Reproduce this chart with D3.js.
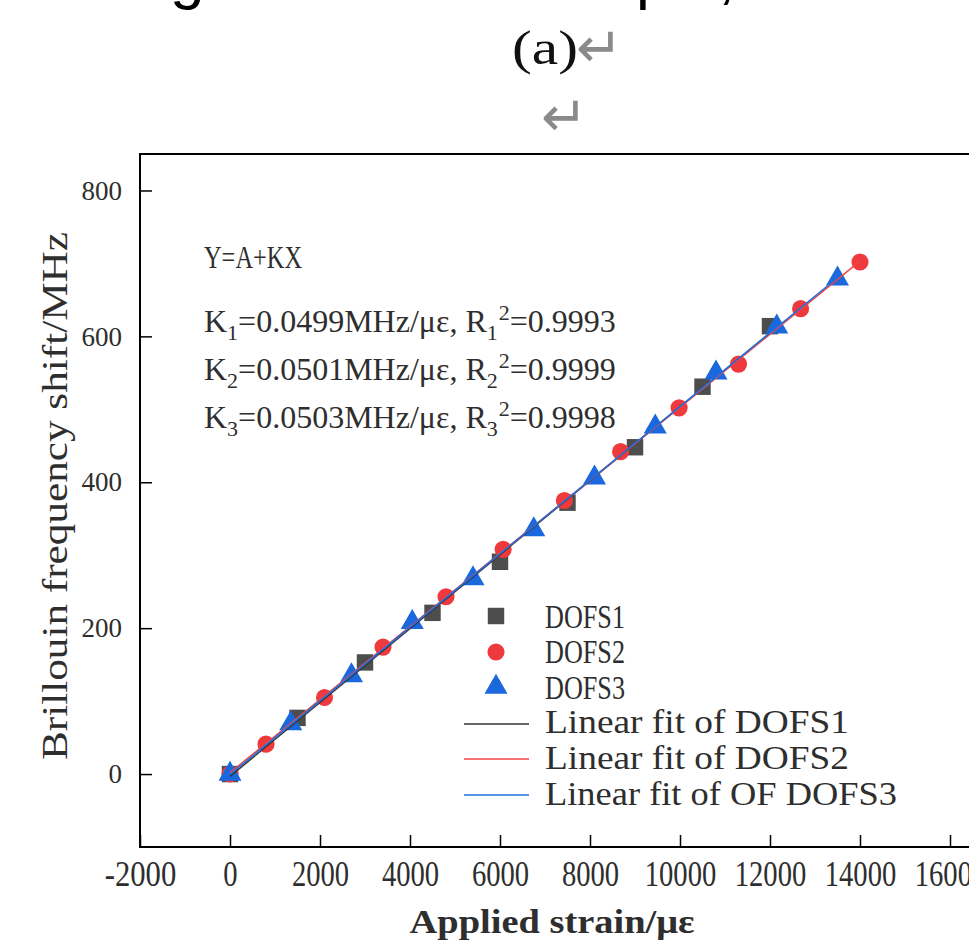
<!DOCTYPE html>
<html>
<head>
<meta charset="utf-8">
<script src="https://cdn.jsdelivr.net/npm/d3@7"></script>
<style>
  html, body { margin: 0; padding: 0; background: #fff; }
  svg { display: block; }
</style>
</head>
<body>
<svg id="chart" width="969" height="940"></svg>
<script>
// ---------------- data ----------------
const dofs1X = [0, 1500, 3000, 4500, 6000, 7500, 9000, 10500, 12000];
const dofs1Y = [0, 77, 153, 221, 291, 372, 448, 531, 614];

const dofs2X = [0, 800, 2100, 3400, 4800, 6070, 7430, 8680, 9980, 11300, 12680, 14000];
const dofs2Y = [0, 41, 105, 174, 243, 308, 375, 442, 502, 562, 638, 702];

const dofs3X = [0, 1350, 2700, 4050, 5400, 6750, 8100, 9450, 10800, 12150, 13500];
const dofs3Y = [0, 69, 135, 208, 268, 335, 406, 476, 550, 613, 679];

const xTicks = [-2000, 0, 2000, 4000, 6000, 8000, 10000, 12000, 14000, 16000];
const yTicks = [0, 200, 400, 600, 800];

const seriesNames = ["DOFS1", "DOFS2", "DOFS3"];
const fitNames = ["Linear fit of DOFS1", "Linear fit of DOFS2", "Linear fit of OF DOFS3"];
const colors = ["#4d4d4d", "#ef3a3d", "#1a68de"];
const fitColors = ["#333333", "#f04545", "#1f6fe0"];

const kLabels = ["0.0499", "0.0501", "0.0503"];
const r2Labels = ["0.9993", "0.9999", "0.9998"];

// ---------------- setup ----------------
const svg = d3.select("#chart");
const x = d3.scaleLinear().domain([-2000, 17000]).range([140, 995]);
const y = d3.scaleLinear().domain([-100, 850]).range([847, 154]);
const serif = "'Liberation Serif', 'Times New Roman', serif";
const textCol = "#2e2e2e";

// top fragments of previous text line
svg.append("text").attr("x", 170).attr("y", -3).attr("font-family", "'Liberation Sans', Arial, sans-serif")
  .attr("font-size", 62).attr("fill", "#000").text("g");
svg.append("text").attr("x", 636).attr("y", -3).attr("font-family", "'Liberation Sans', Arial, sans-serif")
  .attr("font-size", 62).attr("fill", "#000").text("p");
svg.append("text").attr("x", 718).attr("y", -3).attr("font-family", "'Liberation Sans', Arial, sans-serif")
  .attr("font-size", 62).attr("fill", "#000").text(",");

// caption (a) with return marks
svg.append("text").attr("x", 545).attr("y", 64).attr("text-anchor", "middle")
  .attr("font-family", serif).attr("font-size", 48).attr("fill", "#111")
  .attr("textLength", 66).attr("lengthAdjust", "spacingAndGlyphs").text("(a)");
svg.append("text").attr("x", 576).attr("y", 67).attr("font-family", "'DejaVu Sans', sans-serif")
  .attr("font-size", 56).attr("fill", "#8a8a8a").text("\u21B5");
svg.append("text").attr("x", 541).attr("y", 136).attr("font-family", "'DejaVu Sans', sans-serif")
  .attr("font-size", 56).attr("fill", "#8a8a8a").text("\u21B5");

// ---------------- axes ----------------
const xAxis = d3.axisBottom(x).tickValues(xTicks).tickSize(-12).tickPadding(14)
  .tickFormat(d => String(d));
const gx = svg.append("g").attr("transform", `translate(0,${y.range()[0]})`).call(xAxis);
gx.select(".domain").remove();
gx.selectAll(".tick line").attr("stroke", "#000").attr("stroke-width", 1.5);
gx.selectAll(".tick text")
  .attr("font-family", serif).attr("font-size", 35).attr("fill", textCol)
  .attr("dy", "0.72em")
  .each(function(d) {
    const s = String(d);
    d3.select(this).attr("textLength", s.length * 14.3).attr("lengthAdjust", "spacingAndGlyphs");
  });

const yAxis = d3.axisLeft(y).tickValues(yTicks).tickSize(-12).tickPadding(18)
  .tickFormat(d => String(d));
const gy = svg.append("g").attr("transform", `translate(${x.range()[0]},0)`).call(yAxis);
gy.select(".domain").remove();
gy.selectAll(".tick line").attr("stroke", "#000").attr("stroke-width", 1.5);
gy.selectAll(".tick text")
  .attr("font-family", serif).attr("font-size", 27).attr("fill", textCol);

// frame
svg.append("rect")
  .attr("x", x.range()[0]).attr("y", y.range()[1])
  .attr("width", x.range()[1] - x.range()[0]).attr("height", y.range()[0] - y.range()[1])
  .attr("fill", "none").attr("stroke", "#000").attr("stroke-width", 2);

// axis titles
svg.append("text")
  .attr("transform", "translate(67,496) rotate(-90)")
  .attr("text-anchor", "middle").attr("font-family", serif).attr("font-size", 35)
  .attr("fill", textCol).attr("textLength", 528).attr("lengthAdjust", "spacingAndGlyphs")
  .text("Brillouin frequency shift/MHz");
svg.append("text")
  .attr("x", 552).attr("y", 933).attr("text-anchor", "middle")
  .attr("font-family", serif).attr("font-size", 34).attr("font-weight", "bold")
  .attr("fill", textCol).attr("textLength", 285).attr("lengthAdjust", "spacingAndGlyphs")
  .text("Applied strain/\u03BC\u03B5");

// ---------------- data marks ----------------
const series = [
  dofs1X.map((v, i) => [v, dofs1Y[i]]),
  dofs2X.map((v, i) => [v, dofs2Y[i]]),
  dofs3X.map((v, i) => [v, dofs3Y[i]])
];
const shapes = [d3.symbolSquare, d3.symbolCircle, d3.symbolTriangle];
const sizes = [270, 230, 230];

series.forEach((pts, si) => {
  svg.append("g").selectAll("path").data(pts).join("path")
    .attr("d", d3.symbol().type(shapes[si]).size(sizes[si]))
    .attr("transform", d => `translate(${x(d[0])},${y(d[1])})`)
    .attr("fill", colors[si]);
});

// linear fits (least squares)
function fit(pts) {
  const mx = d3.mean(pts, d => d[0]), my = d3.mean(pts, d => d[1]);
  let sxy = 0, sxx = 0;
  pts.forEach(d => { sxy += (d[0] - mx) * (d[1] - my); sxx += (d[0] - mx) ** 2; });
  const k = sxy / sxx;
  return { k, a: my - k * mx };
}
const line = d3.line().x(d => x(d[0])).y(d => y(d[1]));
series.forEach((pts, si) => {
  const f = fit(pts);
  const x0 = d3.min(pts, d => d[0]), x1 = d3.max(pts, d => d[0]);
  svg.append("path")
    .attr("d", line([[x0, f.a + f.k * x0], [x1, f.a + f.k * x1]]))
    .attr("fill", "none").attr("stroke", fitColors[si]).attr("stroke-width", 1.5);
});

// ---------------- annotation ----------------
svg.append("text").attr("x", 204).attr("y", 268)
  .attr("font-family", serif).attr("font-size", 32).attr("fill", textCol)
  .attr("textLength", 98).attr("lengthAdjust", "spacingAndGlyphs").text("Y=A+KX");

const annY = [332, 380, 428];
kLabels.forEach((k, i) => {
  const t = svg.append("text").attr("x", 204).attr("y", annY[i])
    .attr("font-family", serif).attr("font-size", 32).attr("fill", textCol);
  t.append("tspan").text("K");
  t.append("tspan").attr("font-size", 22).attr("dy", 8).text(String(i + 1));
  t.append("tspan").attr("dy", -8).text("=" + k + "MHz/\u03BC\u03B5, R");
  t.append("tspan").attr("font-size", 22).attr("dy", 8).text(String(i + 1));
  t.append("tspan").attr("font-size", 22).attr("dy", -20).attr("dx", 1).text("2");
  t.append("tspan").attr("dy", 12).text("=" + r2Labels[i]);
});

// ---------------- legend ----------------
const legMarkX = 496, legTextX = 545;
const legMarkY = [616, 652, 687];
const legTextY = [628, 663, 699];
seriesNames.forEach((name, i) => {
  svg.append("path")
    .attr("d", d3.symbol().type(shapes[i]).size(sizes[i]))
    .attr("transform", `translate(${legMarkX},${legMarkY[i]})`)
    .attr("fill", colors[i]);
  svg.append("text").attr("x", legTextX).attr("y", legTextY[i])
    .attr("font-family", serif).attr("font-size", 33).attr("fill", textCol)
    .attr("textLength", name.length * 16).attr("lengthAdjust", "spacingAndGlyphs").text(name);
});
const legLineY = [724, 759, 795];
const legLineTextY = [733, 769, 805];
fitNames.forEach((name, i) => {
  svg.append("line").attr("x1", 464).attr("x2", 529).attr("y1", legLineY[i]).attr("y2", legLineY[i])
    .attr("stroke", fitColors[i]).attr("stroke-width", 1.5);
  svg.append("text").attr("x", legTextX).attr("y", legLineTextY[i])
    .attr("font-family", serif).attr("font-size", 33).attr("fill", textCol)
    .attr("textLength", name.length * 16).attr("lengthAdjust", "spacingAndGlyphs").text(name);
});
</script>
</body>
</html>
